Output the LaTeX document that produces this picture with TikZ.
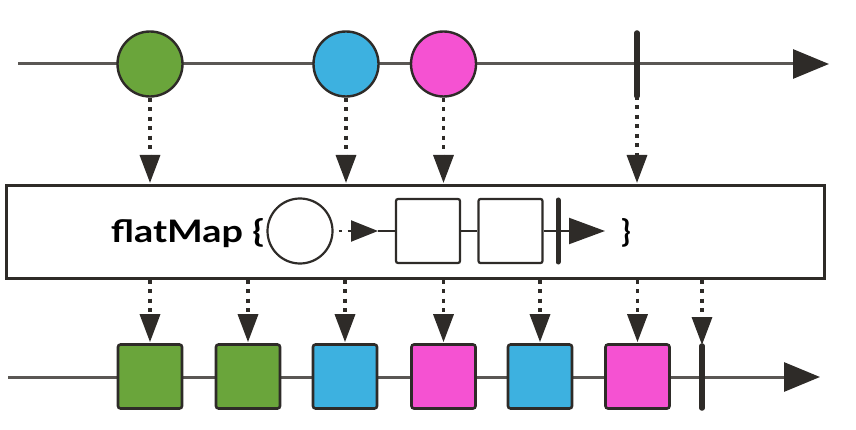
\documentclass[tikz,border=0pt]{standalone}
\usepackage{fontspec}
\setmainfont{Lato}
\usetikzlibrary{arrows.meta}
\definecolor{cgreen}{HTML}{6AA53B}
\definecolor{cblue}{HTML}{3DB1E0}
\definecolor{cpink}{HTML}{F552D2}
\definecolor{cdark}{HTML}{2E2B28}
\definecolor{cline}{HTML}{5A5754}
\tikzset{
  x=1pt, y=-1pt,
  timeline/.style={line width=3pt, draw=cline, -{Triangle[length=36pt,width=29pt,color=cdark]}},
  marble/.style={circle, draw=cdark, line width=2.4pt, minimum size=65pt, inner sep=0pt},
  sqr/.style={rectangle, rounded corners=2.5pt, draw=cdark, line width=2.6pt, minimum size=64pt, inner sep=0pt},
  endbar/.style={line width=5.5pt, draw=cdark, line cap=round},
  dotarrow/.style={line width=3.4pt, draw=cdark, dash pattern=on 4pt off 5.5pt,
     -{Triangle[length=28pt,width=20pt,color=cdark]}, shorten >=1pt},
  innerline/.style={line width=2.2pt, draw=cdark},
  innerbox/.style={rectangle, rounded corners=2pt, draw=cdark, line width=2.2pt, minimum size=64pt, inner sep=0pt, fill=white},
  lblfont/.style={font=\fontsize{31}{32}\selectfont\bfseries},
}
\begin{document}
\begin{tikzpicture}
\useasboundingbox (0,0) rectangle (856,430);
% top timeline
\coordinate (ts) at (18,64);
\coordinate (te) at (829,64);
\draw[timeline] (ts) -- (te);
\node[marble, fill=cgreen] (c1) at (150,64) {};
\node[marble, fill=cblue] (c2) at (346,64) {};
\node[marble, fill=cpink] (c3) at (443.5,64) {};
\coordinate (b1t) at (637,33);
\coordinate (b1b) at (637,96);
\draw[endbar] (b1t) -- (b1b);

% operator box
\node[draw=cdark, line width=2.6pt, rectangle, minimum width=818pt, minimum height=93pt, inner sep=0pt, anchor=north west] (box) at (5,184) {};

% top dotted arrows
\draw[dotarrow] (c1.south) -- (c1.south |- box.north);
\draw[dotarrow] (c2.south) -- (c2.south |- box.north);
\draw[dotarrow] (c3.south) -- (c3.south |- box.north);
\draw[dotarrow] (b1b) -- (b1b |- box.north);

% inside box
\node[anchor=base east, lblfont, inner sep=0pt] (lbl) at (264,243) {\scalebox{1.22}[1]{flatMap \{}};
\node[circle, draw=cdark, line width=2.2pt, minimum size=65pt, inner sep=0pt] (ic) at (300,231) {};
\node[innerbox] (s1) at (428,231) {};
\node[innerbox] (s2) at (510.5,231) {};
\coordinate (ia) at (378,231);
\coordinate (iad) at (352,231);
\draw[innerline, dash pattern=on 3pt off 6pt, dash phase=-5pt] (ic.east) -- (iad);
\draw[innerline, -{Triangle[length=27pt,width=21pt,color=cdark]}] (iad) -- (ia);
\draw[innerline] (ia) -- (s1.west);
\draw[innerline] (s1.east) -- (s2.west);
\coordinate (ib) at (558,231);
\coordinate (ibt) at (558,200);
\coordinate (ibb) at (558,262);
\coordinate (iae) at (605,231);
\draw[innerline] (s2.east) -- (ib);
\draw[innerline, -{Triangle[length=36pt,width=26pt,color=cdark]}] (ib) -- (iae);
\draw[line width=5pt, draw=cdark, line cap=round] (ibt) -- (ibb);
\node[lblfont, inner sep=0pt] (rb) at (626,233) {\}};

% bottom timeline
\coordinate (bs) at (8,377);
\coordinate (be) at (820,377);
\draw[timeline] (bs) -- (be);
\node[sqr, fill=cgreen] (q1) at (150,376.5) {};
\node[sqr, fill=cgreen] (q2) at (248,376.5) {};
\node[sqr, fill=cblue] (q3) at (345,376.5) {};
\node[sqr, fill=cpink] (q4) at (443.5,376.5) {};
\node[sqr, fill=cblue] (q5) at (540,376.5) {};
\node[sqr, fill=cpink] (q6) at (637.5,376.5) {};
\coordinate (b2t) at (702,346);
\coordinate (b2b) at (702,408);
\draw[endbar] (b2t) -- (b2b);

% bottom dotted arrows
\draw[dotarrow] (q1.north |- box.south) -- (q1.north);
\draw[dotarrow] (q2.north |- box.south) -- (q2.north);
\draw[dotarrow] (q3.north |- box.south) -- (q3.north);
\draw[dotarrow] (q4.north |- box.south) -- (q4.north);
\draw[dotarrow] (q5.north |- box.south) -- (q5.north);
\draw[dotarrow] (q6.north |- box.south) -- (q6.north);
\draw[dotarrow] (b2t |- box.south) -- (b2t);
\end{tikzpicture}
\end{document}
